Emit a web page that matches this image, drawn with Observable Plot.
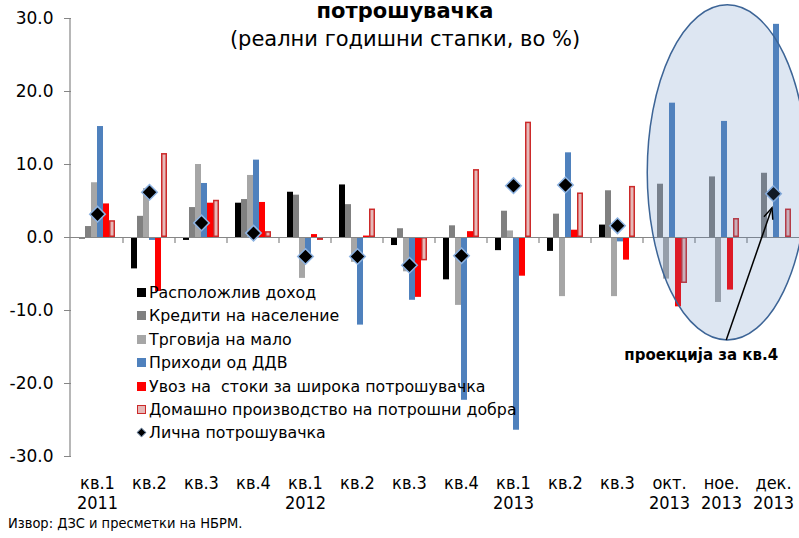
<!DOCTYPE html>
<html><head><meta charset="utf-8">
<script src="https://cdn.jsdelivr.net/npm/d3@7"></script>
<script src="https://cdn.jsdelivr.net/npm/@observablehq/plot@0.6"></script>
<style>
html,body{margin:0;padding:0;background:#fff;overflow:hidden;}
#wrap{position:relative;width:799px;height:538px;font-family:"DejaVu Sans",sans-serif;color:#000;}
#wrap svg{position:absolute;left:0;top:0;}
.ttl{position:absolute;left:5px;width:800px;text-align:center;white-space:nowrap;line-height:1;}
#legend{position:absolute;left:137px;top:281px;font-size:15.8px;line-height:23.4px;white-space:pre;}
#legend .row{position:relative;height:23.4px;padding-left:12px;}
#legend .sw{position:absolute;left:0;top:7px;width:9px;height:9px;box-sizing:border-box;}
#source{position:absolute;left:8px;top:515px;font-size:14.5px;font-family:"DejaVu Sans Condensed","DejaVu Sans",sans-serif;white-space:nowrap;}
</style></head><body><div id="wrap"></div>
<script>
const periods = ["2011 кв.1","2011 кв.2","2011 кв.3","2011 кв.4","2012 кв.1","2012 кв.2","2012 кв.3","2012 кв.4","2013 кв.1","2013 кв.2","2013 кв.3","2013 окт.","2013 ное.","2013 дек."];
const periodLabels = ["кв.1\n2011","кв.2","кв.3","кв.4","кв.1\n2012","кв.2","кв.3","кв.4","кв.1\n2013","кв.2","кв.3","окт.\n2013","ное.\n2013","дек.\n2013"];
const seriesNames = ["Расположлив доход","Кредити на население","Трговија на мало","Приходи од ДДВ","Увоз на  стоки за широка потрошувачка","Домашно производство на потрошни добра","Лична потрошувачка"];
const seriesColors = ["#000000","#808080","#a6a6a6","#4f81bd","#ff0000","#e6b9b8","#000000"];
const disposableIncome = [-0.2,-4.3,-0.4,4.7,6.2,7.2,-1.1,-5.8,-1.8,-1.9,1.7,null,null,null];
const householdCredit  = [1.5,2.9,4.1,5.2,5.8,4.5,1.2,1.6,3.6,3.2,6.4,7.3,8.3,8.8];
const retailTrade      = [7.5,6.7,10.0,8.5,-5.6,-3.4,-4.7,-9.3,0.9,-8.1,-8.1,-5.7,-8.9,null];
const vatRevenue       = [15.2,-0.4,7.4,10.6,-2.8,-12.0,-8.6,-22.3,-26.4,11.6,-0.6,18.4,15.9,29.2];
const consumerImports  = [4.6,-7.4,4.7,4.8,0.4,0.2,-8.2,0.8,-5.3,1.0,-3.1,-9.5,-7.2,null];
const domesticGoods    = [2.3,11.5,5.1,0.8,-0.4,3.9,-3.2,9.3,15.8,6.1,7.0,-6.3,2.6,3.9];
const privateConsumption = [3.2,6.2,2.0,0.6,-2.6,-2.6,-3.8,-2.5,7.1,7.2,1.6,null,null,6.0];
const yTicks = [-30,-20,-10,0,10,20,30];
const title = "потрошувачка";
const subtitle = "(реални годишни стапки, во %)";
const sourceText = "Извор: ДЗС и пресметки на НБРМ.";
const noteText = "проекција за кв.4";
// annotation anchors (data units)
const ellipseTopValue = 31.8, ellipseBottomValue = -14.1;
const arrowTipValue = 4.0;

const barSeries = [disposableIncome,householdCredit,retailTrade,vatRevenue,consumerImports,domesticGoods];
const barData = [];
barSeries.forEach((arr, s) => arr.forEach((v, i) => { if (v != null) barData.push({period: periods[i], series: seriesNames[s], value: v}); }));
const dotData = [];
privateConsumption.forEach((v, i) => { if (v != null) dotData.push({period: periods[i], value: v}); });
const pinkName = seriesNames[5];

const chart = Plot.plot({
  width: 799, height: 538,
  marginLeft: 70, marginRight: 0, marginTop: 18, marginBottom: 82,
  style: {fontFamily: "DejaVu Sans", background: "transparent", overflow: "visible", color: "#000"},
  fx: {domain: periods, padding: 0, axis: null, label: null},
  x: {domain: seriesNames.slice(0, 6), paddingInner: 0, paddingOuter: 0.72, axis: null, label: null},
  y: {domain: [-30, 30], axis: null, label: null},
  color: {domain: seriesNames.slice(0, 6), range: seriesColors.slice(0, 6)},
  marks: [
    Plot.barY(barData.filter(d => d.series !== pinkName), {fx: "period", x: "series", y: "value", fill: "series"}),
    Plot.barY(barData.filter(d => d.series === pinkName), {fx: "period", x: "series", y: "value", fill: "series", stroke: "#cc2a2a", strokeWidth: 1.5, inset: 0.75}),
    Plot.ruleY([0], {stroke: "#868686", strokeWidth: 1.2}),
    Plot.dot(dotData, {fx: "period", y: "value", symbol: "diamond2", r: 7, fill: "#000", stroke: "#8db3e2", strokeWidth: 1.5}),
    Plot.axisY({ticks: yTicks, tickFormat: d => d.toFixed(1), tickSize: 7, tickPadding: 11, fontSize: 17, stroke: "#868686", fill: "#000", label: null}),
    Plot.axisFx({anchor: "bottom", tickSize: 0, tickPadding: 18, fontSize: 18, fontFamily: "DejaVu Sans Condensed, DejaVu Sans", lineHeight: 1.12, fill: "#000", label: null, tickFormat: d => periodLabels[periods.indexOf(d)]})
  ]
});

const wrap = document.getElementById("wrap");
wrap.appendChild(chart);

const fx = chart.scale("fx"), y = chart.scale("y");
const bw = fx.bandwidth;
const svg = d3.select(chart);
const y0 = y.apply(0);
// y axis line
svg.append("line").attr("x1", 70).attr("x2", 70).attr("y1", y.apply(30)).attr("y2", y.apply(-30)).attr("stroke", "#868686").attr("stroke-width", 1.2);
// category ticks
periods.forEach((p, i) => { if (i > 0) svg.append("line").attr("x1", fx.apply(p)).attr("x2", fx.apply(p)).attr("y1", y0).attr("y2", y0 + 6).attr("stroke", "#868686").attr("stroke-width", 1.2); });
// ellipse highlight
const cx = fx.apply(periods[12]) + bw * 0.62;
const cyTop = y.apply(ellipseTopValue), cyBot = y.apply(ellipseBottomValue);
svg.append("ellipse").attr("cx", cx).attr("cy", (cyTop + cyBot) / 2).attr("rx", 80).attr("ry", (cyBot - cyTop) / 2)
  .attr("fill", "#5582be").attr("fill-opacity", 0.2).attr("stroke", "#3c6496").attr("stroke-width", 1.5);
// arrow
const tipX = fx.apply(periods[13]) + bw / 2 - 1, tipY = y.apply(arrowTipValue);
const sx = cx - 1, sy = cyBot;
const ang = Math.atan2(tipY - sy, tipX - sx);
const ah = 12, aw = 0.4;
svg.append("line").attr("x1", sx).attr("y1", sy).attr("x2", tipX).attr("y2", tipY).attr("stroke", "#000").attr("stroke-width", 1.5);
svg.append("path").attr("d", `M${tipX - ah * Math.cos(ang - aw)},${tipY - ah * Math.sin(ang - aw)}L${tipX},${tipY}L${tipX - ah * Math.cos(ang + aw)},${tipY - ah * Math.sin(ang + aw)}`)
  .attr("fill", "none").attr("stroke", "#000").attr("stroke-width", 1.5);
svg.append("text").attr("x", cx - 26).attr("y", cyBot + 15).attr("text-anchor", "middle").attr("dominant-baseline", "central")
  .attr("font-family", "DejaVu Sans").attr("font-weight", "bold").attr("font-size", 15).text(noteText);

// titles
const t1 = document.createElement("div"); t1.className = "ttl"; t1.style.top = "1px"; t1.style.fontSize = "21px"; t1.style.fontWeight = "bold"; t1.textContent = title; wrap.appendChild(t1);
const t2 = document.createElement("div"); t2.className = "ttl"; t2.style.top = "29px"; t2.style.fontSize = "21px"; t2.textContent = subtitle; wrap.appendChild(t2);
// legend
const lg = document.createElement("div"); lg.id = "legend";
seriesNames.forEach((name, i) => {
  const row = document.createElement("div"); row.className = "row";
  const sw = document.createElement("span"); sw.className = "sw";
  if (i === 5) { sw.style.background = seriesColors[5]; sw.style.border = "1.5px solid #cc2a2a"; }
  else if (i === 6) { sw.style.background = "#000"; sw.style.border = "1px solid #8db3e2"; sw.style.transform = "rotate(45deg) scale(0.75)"; }
  else sw.style.background = seriesColors[i];
  row.appendChild(sw);
  row.appendChild(document.createTextNode(name));
  lg.appendChild(row);
});
wrap.appendChild(lg);
const src = document.createElement("div"); src.id = "source"; src.textContent = sourceText; wrap.appendChild(src);
</script></body></html>
